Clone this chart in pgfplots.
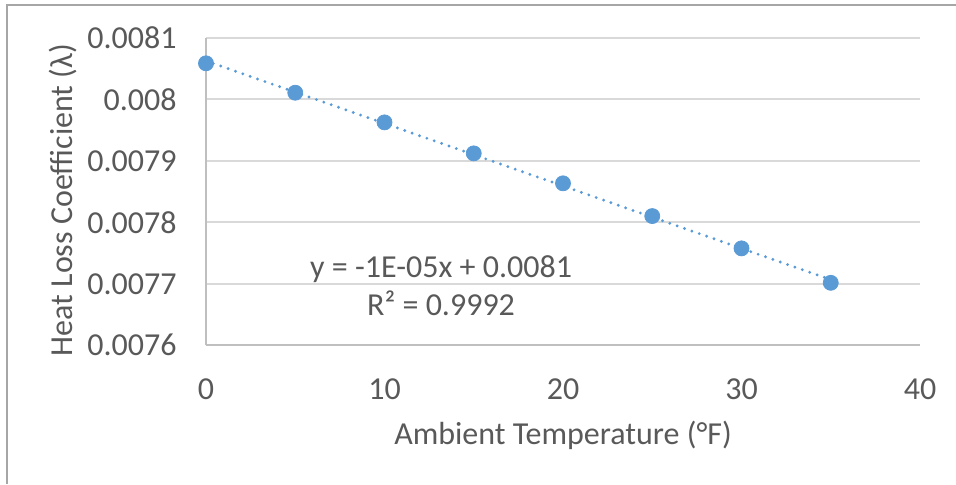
\documentclass[border=0pt]{standalone}
\usepackage{fontspec}
\setmainfont{Carlito}
\usepackage{pgfplots}
\pgfplotsset{compat=1.18}
\definecolor{cblue}{HTML}{5B9BD5}
\definecolor{gridgray}{HTML}{D9D9D9}
\definecolor{axisgray}{HTML}{BFBFBF}
\definecolor{bordergray}{HTML}{A6A6A6}
\definecolor{textgray}{HTML}{595959}
\newcommand{\chartfont}{\fontsize{16}{19.5}\selectfont}
\begin{document}
\begin{tikzpicture}[x=1pt,y=1pt]
\useasboundingbox (0,0) rectangle (478,242);
\draw[color=bordergray, line width=1pt] (3.5,0) -- (3.5,239.5) -- (478.5,239.5);
\begin{axis}[
  at={(103pt,69.35pt)}, anchor=south west,
  scale only axis, width=357pt, height=153.8pt,
  xmin=0, xmax=40, ymin=0.0076, ymax=0.0081,
  axis x line*=bottom, axis y line*=left,
  axis line style={draw=axisgray, line width=1pt},
  xtick={0,10,20,30,40}, xticklabels={0,10,20,30,40},
  ytick={0.0076,0.0077,0.0078,0.0079,0.008,0.0081},
  yticklabels={0.0076,0.0077,0.0078,0.0079,0.008,0.0081},
  scaled y ticks=false, scaled x ticks=false,
  major tick length=0pt,
  ymajorgrids, grid style={draw=gridgray, line width=1pt},
  tick label style={font=\chartfont, text=textgray},
  xticklabel style={inner sep=0pt, anchor=north, yshift=-16.3pt},
  yticklabel style={inner sep=0pt, anchor=east, xshift=-14.5pt},
  xlabel={Ambient Temperature (°F)},
  ylabel={Heat Loss Coefficient (λ)},
  xlabel style={font=\chartfont, text=textgray, at={(axis description cs:0.5,0)}, anchor=base, yshift=-49.35pt},
  ylabel style={font=\chartfont, text=textgray, at={(axis description cs:-0.2003,0.4724)}, anchor=center},
  clip=false,
]
\addplot[color=cblue, line width=1.6pt, line cap=round, dash pattern=on 0pt off 3.9pt]
  coordinates {(0,0.0080623) (35,0.0077067)};
\addplot[only marks, mark=*, mark size=3.75pt, color=cblue, mark options={draw=cblue, fill=cblue}]
  coordinates {
    (0,0.0080584) (5,0.0080106) (10,0.0079624) (15,0.0079120)
    (20,0.0078633) (25,0.0078101) (30,0.0077576) (35,0.0077016)
  };
\node[anchor=base, font=\chartfont, text=textgray, inner sep=0pt] at (axis cs:13.17,0.0077109) {y = -1E-05x + 0.0081};
\node[anchor=base, font=\chartfont, text=textgray, inner sep=0pt] at (axis cs:13.17,0.0076491) {R² = 0.9992};
\end{axis}
\end{tikzpicture}
\end{document}
